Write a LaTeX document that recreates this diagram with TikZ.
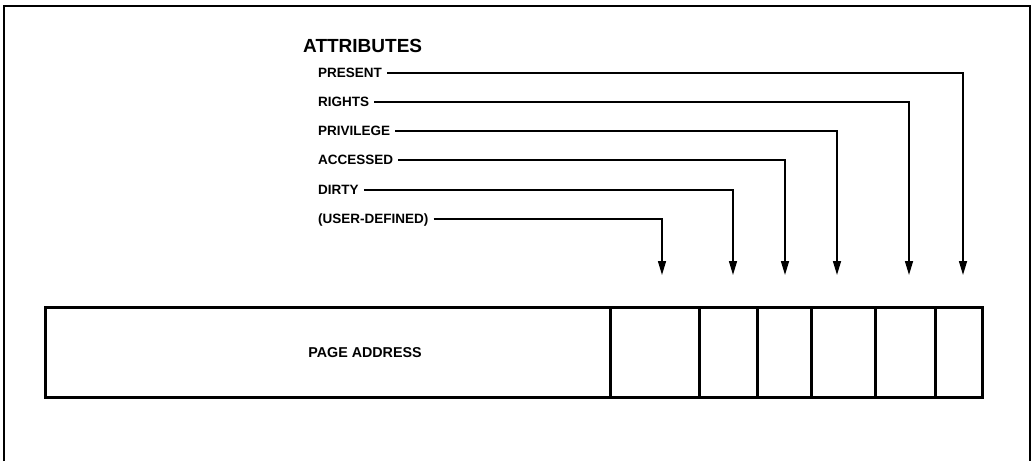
\documentclass[tikz,border=0pt]{standalone}
\usepackage{fontspec}
\setmainfont{Liberation Sans}
\usetikzlibrary{arrows.meta}
\begin{document}
\begin{tikzpicture}[x=1pt,y=-1pt,
  frame/.style={line width=1.3pt},
  lbl/.style={anchor=west,inner sep=0pt,text height=9.8pt,text depth=0pt,
    font=\fontsize{13.5}{16}\selectfont\bfseries},
  conn/.style={line width=1.5pt,shorten <=5pt,
    -{Triangle[length=14pt,width=8pt]}},
  cell/.style={draw,line width=3pt,minimum height=90pt,inner sep=0pt}
]
\useasboundingbox (0,0) rectangle (1031,461);
% outer frame, open at the bottom
\draw[frame] (4,461) -- (4,6) -- (1030,6) -- (1030,461);

% heading and attribute labels
\node[anchor=west,inner sep=0pt,text height=14pt,text depth=0pt,
  font=\fontsize{19}{22}\selectfont\bfseries] (head) at (303,45) {ATTRIBUTES};
\node[lbl] (present) at (318,73)  {PRESENT};
\node[lbl] (rights)  at (318,102) {RIGHTS};
\node[lbl] (priv)    at (318,131) {PRIVILEGE};
\node[lbl] (acc)     at (318,160) {ACCESSED};
\node[lbl] (dirty)   at (318,190) {DIRTY};
\node[lbl] (user)    at (318,219) {(USER-DEFINED)};

% the page table entry and its fields
\node[cell,minimum width=565pt] (addr)  at (327.5,352) {};
\node[lbl,anchor=center,font=\fontsize{14.3}{17}\selectfont\bfseries]
  (addrText) at (365,352.5) {PAGE ADDRESS};
\node[cell,minimum width=89pt]  (cUser) at (654.5,352) {};
\node[cell,minimum width=58pt]  (cDirty) at (728,352) {};
\node[cell,minimum width=54pt]  (cAcc)  at (784,352) {};
\node[cell,minimum width=64pt]  (cPriv) at (843,352) {};
\node[cell,minimum width=60pt]  (cRights) at (905,352) {};
\node[cell,minimum width=47pt]  (cPres) at (958.5,352) {};

% arrow tips above the fields
\coordinate (tUser)   at (662,275);
\coordinate (tDirty)  at (733,275);
\coordinate (tAcc)    at (785,275);
\coordinate (tPriv)   at (837,275);
\coordinate (tRights) at (909,275);
\coordinate (tPres)   at (963,275);

\draw[conn] (present) -| (tPres);
\draw[conn] (rights)  -| (tRights);
\draw[conn] (priv)    -| (tPriv);
\draw[conn] (acc)     -| (tAcc);
\draw[conn] (dirty)   -| (tDirty);
\draw[conn] (user)    -| (tUser);
\end{tikzpicture}
\end{document}
